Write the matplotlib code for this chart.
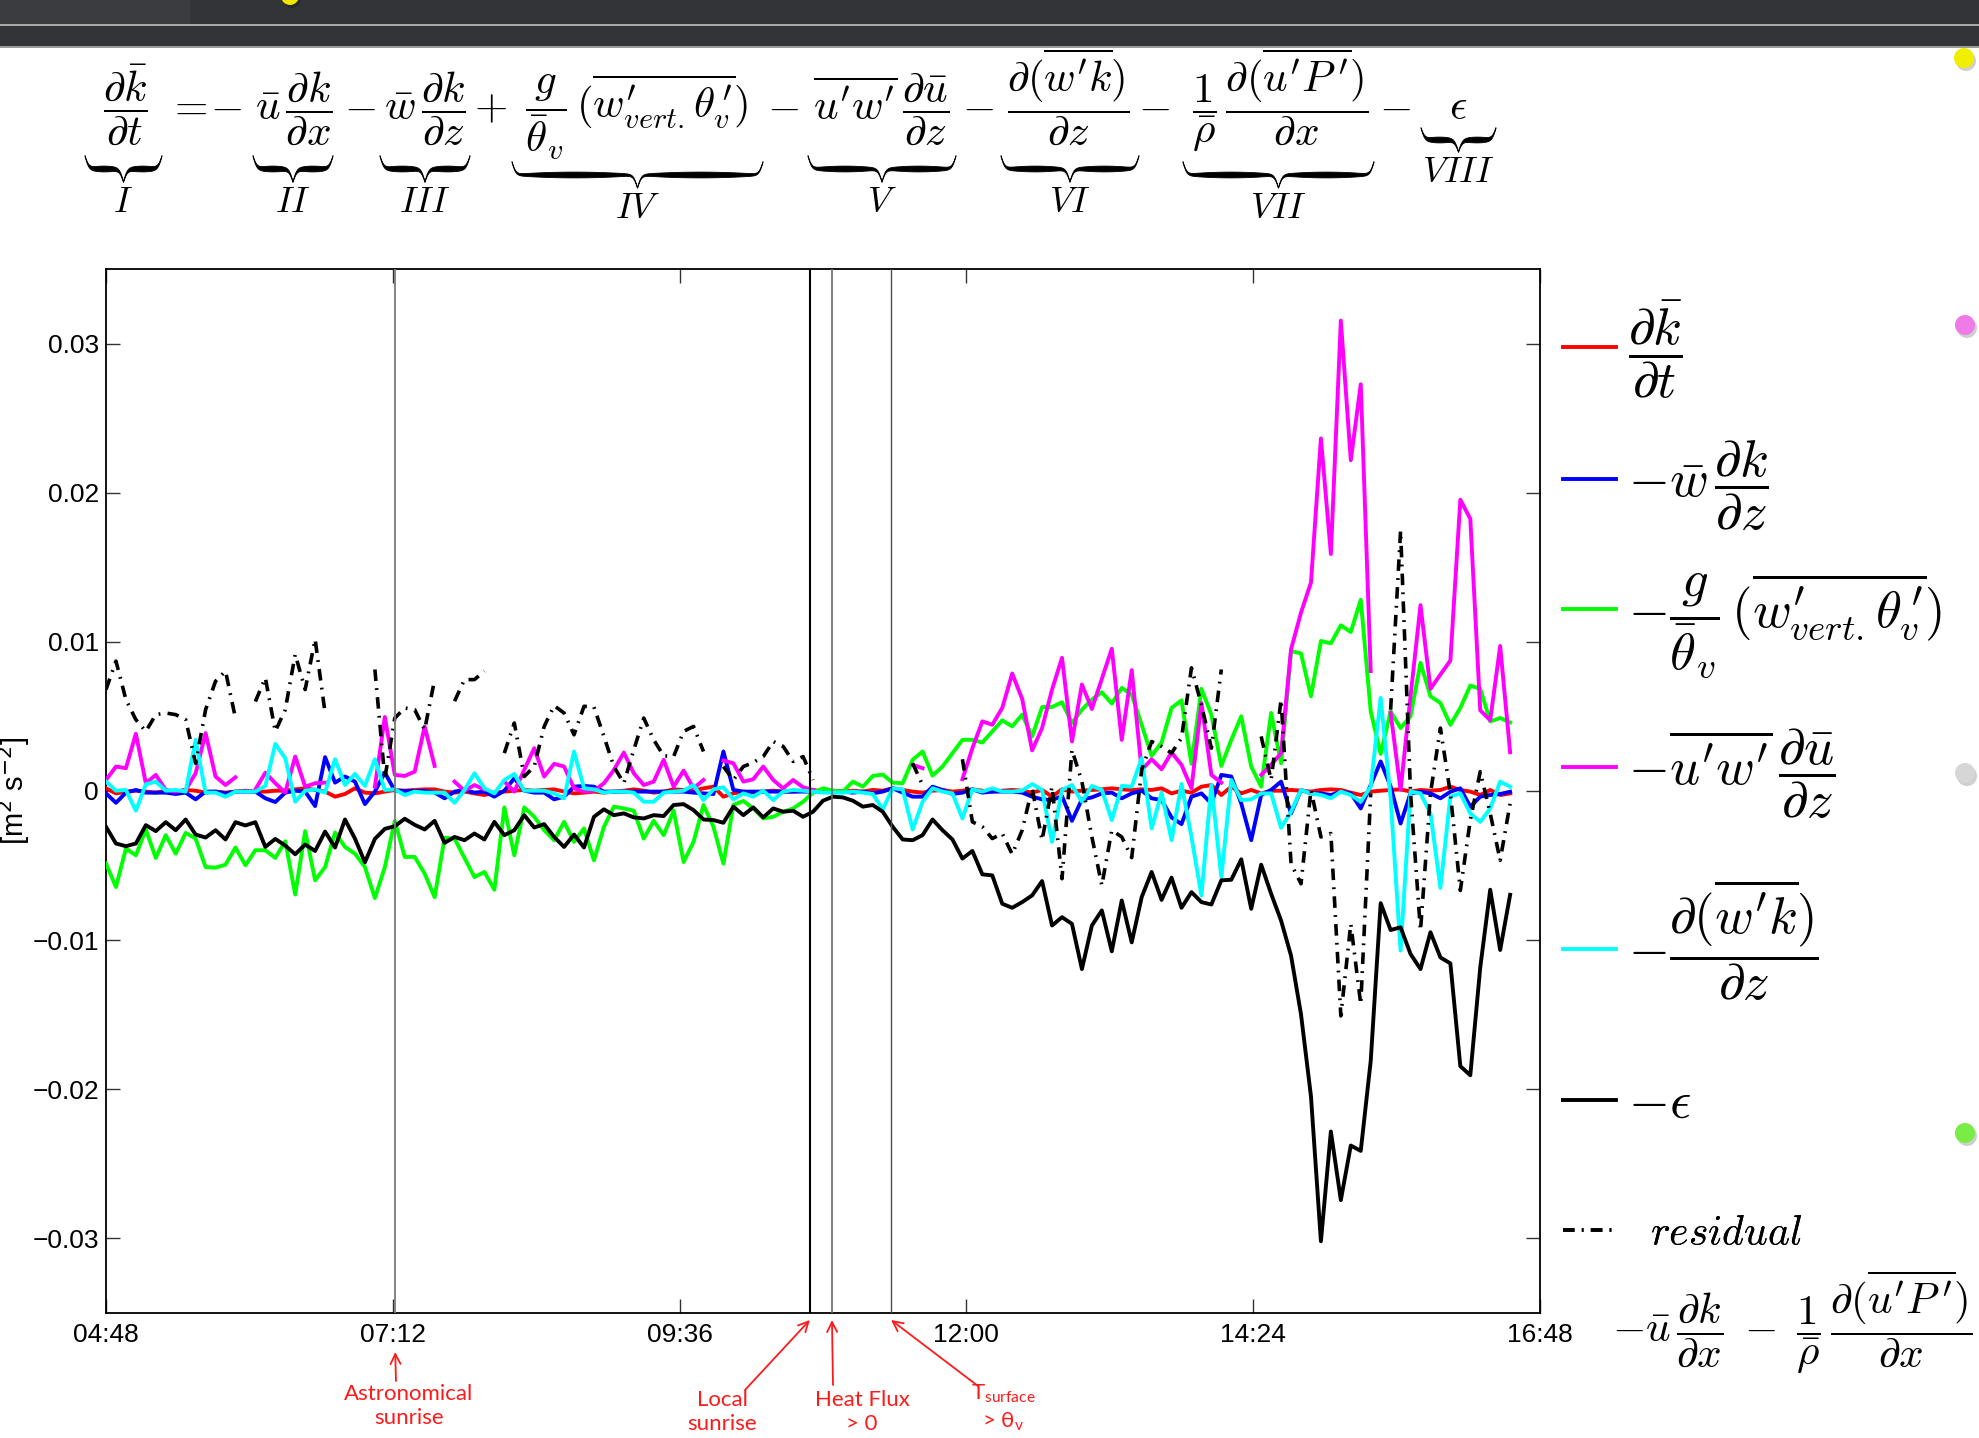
# -*- coding: utf-8 -*-
"""
TKE budget terms over the morning transition, with the budget equation on top.
"""
import numpy as np
import matplotlib
matplotlib.use("Agg")
import matplotlib.pyplot as plt
from matplotlib.patches import Circle, Polygon, Rectangle
from matplotlib.transforms import IdentityTransform
from matplotlib.ticker import FixedLocator, FuncFormatter

plt.rcParams['font.family'] = ['Liberation Sans', 'DejaVu Sans']
plt.rcParams['mathtext.fontset'] = 'cm'
plt.rcParams['mathtext.rm'] = 'Lato'
plt.rcParams['mathtext.it'] = 'Lato:italic'

nan = np.nan
W, H = 1979, 1438

# 5 min samples starting 04:48 (hours), budget terms in 1e-3 m2 s-2
n_samp = 142
t = 4.8 + np.arange(n_samp) * 5 / 60.

dkdt = [0.18, -0.16, -0.04, 0.02, -0.04, -0.11, 0.02, -0.04, 0.07, 0.02, -0.11, -0.04, -0.11, -0.04, 0.02, -0.04, -0.04, 0.02, 0.02, 0.11, 0.18, 0.07, -0.04, -0.38, -0.20, 0.18, -0.11, -0.16, -0.04, 0.07, 0.02, 0.07, 0.11, 0.11, -0.04, -0.11, -0.04, -0.16,
        -0.27, -0.11, -0.04, 0.02, 0.07, 0.02, 0.07, 0.11, -0.04, -0.16, -0.11, -0.04, -0.11, -0.04, 0.02, 0.11, 0.02, -0.11, -0.04, 0.11, 0.07, 0.02, 0.18, 0.29, -0.38, -0.16, -0.04, -0.11, -0.04, 0.02, -0.04, -0.04, 0.02, 0.07, -0.04, 0.02, -0.04,
        0.02, -0.04, 0.07, 0.02, 0.18, 0.07, -0.04, -0.11, 0.02, 0.07, -0.04, 0.02, 0.11, 0.02, -0.04, 0.02, 0.07, 0.02, -0.11, 0.07, -0.38, 0.11, -0.04, 0.02, 0.07, 0.11, 0.18, 0.11, 0.07, 0.11, 0.07, 0.18, -0.16, 0.02, -0.11, 0.29, 0.40, -0.27,
        0.29, -0.16, 0.07, -0.16, 0.02, 0.02, 0.07, 0.02, -0.04, 0.07, 0.11, 0.07, -0.11, -0.27, -0.04, 0.02, 0.07, 0.11, -0.04, 0.07, 0.02, 0.07, 0.29, 0.07, -0.04, -0.27, 0.07, -0.27, -0.16]

vert_adv = [-0.16, -0.79, -0.11, 0.07, -0.11, -0.11, -0.11, -0.20, -0.11, -0.56, -0.04, -0.04, -0.16, -0.04, -0.04, -0.04, -0.49, -0.74, -0.11, 0.02, -0.04, -1.01, 2.27, 0.56, 0.97, 0.63, -0.88, -0.04, 1.23, 0.02, 0.0, 0.0, 0.0, -0.1, -0.49, -0.04, 0.07, -0.11,
            -0.04, -0.38, 0.02, 0.85, 0.02, -0.11, -0.11, -0.56, -0.38, 0.29, 0.34, 0.29, -0.04, -0.04, -0.04, -0.04, -0.04, -0.04, -0.04, -0.04, -0.04, -0.11, -0.16, -0.20, 2.65, 0.07, -0.04, -0.04, -0.04, -0.04, -0.04, -0.04, -0.04, -0.04, -0.04, -0.04, -0.04,
            -0.11, -0.04, -0.16, -0.04, 0.18, -0.11, -0.38, -0.38, 0.29, 0.07, -0.20, -0.11, 0.11, -0.11, -0.04, -0.04, -0.04, -0.11, -0.38, -0.56, -0.61, -0.34, -2.00, -0.56, -0.43, -0.16, -0.11, -0.49, -0.16, 0.02, -0.49, -0.61, -1.77, -2.22, -0.38, -0.16, -0.83, 1.08,
            0.97, -0.83, -3.30, -0.27, 0.07, 0.63, -1.50, 0.07, -0.16, -0.16, -0.27, -0.05, -0.16, -1.17, 0.40, 1.98, 0.30, -2.18, -0.16, -0.05, -0.16, -0.49, -0.05, 0.18, -1.05, -0.38, -0.27, -0.20, -0.05]

buoy = [-4.87, -6.44, -3.86, -4.31, -2.58, -4.49, -2.96, -4.20, -2.81, -3.19, -5.10, -5.14, -4.94, -3.79, -4.98, -3.97, -3.97, -4.49, -3.37, -6.94, -2.69, -5.99, -5.10, -2.78, -3.75, -4.20, -5.10, -7.18, -5.10, -2.00, -4.42, -4.42, -5.54, -7.12, -3.14, -3.19, -4.49, -5.77,
        -5.43, -6.62, -1.10, -4.31, -1.10, -1.73, -2.63, -3.30, -2.07, -3.41, -2.51, -4.65, -2.40, -1.05, -1.17, -1.32, -3.19, -2.00, -2.96, -1.32, -4.76, -3.41, -0.94, -2.40, -4.87, -0.94, -0.67, -1.17, -1.84, -1.73, -1.39, -1.17, -0.72, -0.11, 0.18, 0.02, -0.04,
        0.63, 0.29, 1.01, 1.10, 0.56, 0.52, 2.09, 2.65, 1.03, 1.64, 2.54, 3.43, 3.43, 3.25, 4.00, 4.74, 4.33, 5.12, 3.66, 5.63, 5.63, 5.95, 4.56, 5.45, 6.13, 6.62, 5.86, 6.91, 6.46, 4.44, 2.36, 3.25, 5.57, 6.08, 1.82, 6.85, 5.12, 1.68,
        3.43, 5.01, 1.64, 0.29, 5.23, 1.86, 9.38, 9.23, 6.35, 10.06, 9.90, 11.11, 10.66, 12.82, 5.34, 2.49, 5.34, 4.22, 5.01, 8.60, 6.35, 5.90, 4.44, 5.57, 7.07, 6.85, 4.67, 4.89, 4.60]

shear = [0.74, 1.64, 1.53, 3.84, 0.52, 1.08, 0.07, -0.04, 0.07, 1.19, 3.88, 0.97, 0.40, 0.92, nan, 0.10, 1.23, 0.52, -0.10, 2.31, 0.29, 0.52, 0.56, nan, nan, nan, nan, 0.29, 4.96, 1.08, 1.01, 1.30, 4.33, 1.68, nan, 0.63, 0.02, 0.40,
         0.10, nan, 0.63, -0.04, 1.41, 2.87, 0.97, 1.82, 1.64, 0.18, -0.04, 0.02, 0.52, 1.41, 2.58, 1.19, 0.40, 0.63, 2.09, 0.29, 1.37, 0.18, 0.74, nan, 2.04, 1.86, 0.63, 0.79, 1.64, 0.74, 0.18, 0.74, 0.25, 0.07, nan, nan, nan,
         nan, nan, 0.63, nan, nan, nan, 1.75, 1.53, nan, 0.56, nan, 0.79, 2.87, 4.67, 4.44, 5.57, 7.88, 6.17, 2.72, 4.22, 6.80, 8.93, 3.32, 7.14, 5.50, 7.52, 9.54, 3.43, 8.10, 1.41, 2.13, 1.46, 2.58, 1.75, 0.18, 5.90, 1.08, 0.56,
         nan, nan, nan, 1.08, 1.75, 2.54, 9.50, 11.96, 13.98, 23.64, 15.89, 31.54, 22.18, 27.27, 8.04, nan, 5.23, 0.07, 6.35, 12.46, 6.85, 7.81, 8.75, 19.53, 18.25, 5.41, 4.74, 9.72, 2.60]

turb_tr = [0.63, 0.02, 0.07, -1.32, 0.45, 0.63, 0.02, 0.07, -0.04, 3.43, -0.11, -0.11, -0.38, -0.04, -0.04, -0.04, 0.34, 3.16, 2.20, -0.72, 0.02, 0.11, -0.11, 2.13, 0.40, 1.14, 0.34, 2.13, 0.07, 0.11, -0.27, -0.04, -0.11, -0.11, -0.11, -0.79, 0.07, 1.19,
           0.18, -0.16, 0.74, 1.14, 0.02, 0.02, 0.02, -0.16, -0.49, 2.65, 0.18, 0.11, -0.11, -0.04, -0.04, -0.11, -0.72, -0.72, -0.11, -0.04, 0.02, 0.40, -0.61, 0.11, 0.25, -0.56, -0.16, -0.38, 0.02, -0.61, -0.04, 0.07, 0.02, -0.04, -0.11, -0.11, -0.11,
           -0.04, -0.11, -0.20, -1.23, 0.18, 0.11, -2.58, -0.72, 0.18, -0.04, -0.16, -1.84, 0.11, -0.04, 0.18, -0.04, -0.04, 0.02, 0.47, 0.07, -3.41, 0.07, 0.40, -0.72, 0.34, 0.07, -1.95, 0.34, 0.29, 2.20, -2.51, -0.11, -3.30, 0.47, -3.08, -7.00, 0.40, -5.77,
           0.74, -0.61, -0.56, -0.16, -0.16, -2.47, -1.39, 0.07, -0.16, -0.27, -0.49, -0.04, -0.27, -0.72, 0.29, 6.24, -0.50, -10.70, -0.04, -0.16, -1.50, -6.49, -0.38, -0.16, -1.50, -2.07, -1.17, 0.63, 0.29]

dissip = [-2.40, -3.52, -3.70, -3.52, -2.29, -2.69, -2.09, -2.63, -1.91, -2.92, -3.12, -2.63, -3.25, -2.09, -2.31, -2.09, -3.75, -3.21, -3.66, -4.24, -3.59, -4.02, -2.72, -3.79, -1.91, -3.19, -4.78, -3.21, -2.54, -2.36, -1.86, -2.27, -2.58, -2.00, -3.48, -3.08, -3.30, -2.85,
          -3.25, -2.07, -2.96, -2.63, -1.62, -2.45, -2.22, -3.08, -3.75, -2.92, -3.79, -1.73, -1.23, -1.62, -1.50, -1.77, -1.84, -1.62, -1.68, -0.94, -0.88, -1.28, -1.91, -1.95, -2.13, -1.05, -1.62, -1.10, -1.77, -1.17, -1.39, -1.32, -1.73, -1.39, -0.65, -0.38, -0.43,
          -0.65, -1.05, -0.94, -1.39, -2.40, -3.25, -3.30, -2.96, -1.91, -2.63, -3.25, -4.53, -4.02, -5.59, -5.66, -7.56, -7.83, -7.45, -7.00, -6.04, -9.02, -8.46, -8.91, -11.94, -9.02, -8.01, -10.75, -7.34, -10.15, -7.12, -5.43, -7.30, -5.81, -7.83, -6.78, -7.45, -7.61, -5.99,
          -5.95, -4.58, -7.90, -4.94, -6.89, -8.69, -11.04, -14.97, -20.47, -30.19, -22.83, -27.43, -23.77, -24.13, -18.11, -7.52, -9.32, -9.14, -10.93, -11.94, -9.47, -11.16, -11.56, -18.45, -19.06, -11.83, -6.62, -10.66, -6.96]

resid = [6.80, 8.71, 6.13, 4.78, 4.00, 5.12, 5.23, 5.12, 4.78, 1.86, 5.45, 7.36, 8.04, 4.89, nan, 6.00, 7.59, 4.00, 5.45, 9.16, 6.80, 10.17, 5.23, nan, nan, nan, nan, 8.15, 0.85, 4.89, 5.57, 5.45, 4.11, 7.47, nan, 6.02, 7.47, 7.47,
         8.04, nan, 2.54, 4.56, 0.97, 1.64, 4.33, 5.72, 5.23, 3.77, 5.68, 5.63, 3.66, 1.64, 0.52, 2.76, 4.89, 3.43, 2.36, 2.31, 4.00, 4.33, 2.65, nan, 1.64, 0.74, 1.64, 1.91, 2.31, 3.32, 2.99, 1.98, 2.31, 0.74, nan, nan, nan,
         nan, nan, -0.61, nan, nan, nan, 1.86, 0.40, nan, 0.40, nan, 2.13, -2.07, -2.40, -3.19, -2.85, -4.24, -2.63, 0.18, -3.30, 0.29, -5.88, 2.76, 0.63, -3.08, -6.33, -2.63, -3.08, -4.47, 1.41, 3.32, 2.99, 2.54, 3.55, 8.26, 5.79, 2.87, 8.15,
         nan, nan, nan, 3.66, 0.74, 6.13, -4.87, -6.22, 0.07, -3.08, -2.85, -15.08, -8.91, -14.30, -0.16, nan, 5.45, 17.46, -0.16, -9.36, -0.16, 4.22, -0.16, -6.67, -1.95, 1.30, -1.50, -4.65, -0.83]

for s in (dkdt, vert_adv, buoy, shear, turb_tr, dissip, resid):
    assert len(s) == n_samp, len(s)

# marked events (hours)
event_t = [7.22, 10.69, 10.875, 11.37]
event_col = ['#7a7a7a', '#000000', '#6a6a6a', '#505050']
event_lw = [1.3, 1.5, 1.2, 1.0]
event_lab = ['Astronomical\nsunrise', 'Local\nsunrise', 'Heat Flux\n> 0',
             r'T$_{\mathrm{surface}}$' + '\n' + r'> θ$_{\mathrm{v}}$']

x_ticks = [4.8, 7.2, 9.6, 12.0, 14.4, 16.8]
y_ticks = [-0.03, -0.02, -0.01, 0, 0.01, 0.02, 0.03]

labels = [r'$\dfrac{\partial\bar{k}}{\partial t}$',
          r'$-\bar{w}\,\dfrac{\partial k}{\partial z}$',
          r'$-\dfrac{g}{\bar{\theta}_v}\,(\overline{w^{\prime}_{vert.}\theta_v^{\,\prime}})$',
          r'$-\overline{u^{\prime}w^{\prime}}\,\dfrac{\partial\bar{u}}{\partial z}$',
          r'$-\dfrac{\partial(\overline{w^{\prime}k})}{\partial z}$',
          r'$-\epsilon$',
          r'$residual$']

fig = plt.figure(figsize=(W / 100, H / 100), dpi=100)
fig.patch.set_facecolor('white')


def fx(px):
    return px / W


def fy(py):
    return 1 - py / H


# slide header bar
fig.add_artist(Rectangle((0, fy(47)), 1, 47 / H, transform=fig.transFigure, fc='#333437', ec='none'))
fig.add_artist(Rectangle((0, fy(25)), fx(190), 25 / H, transform=fig.transFigure, fc='#3b3c3f', ec='none'))
fig.add_artist(Rectangle((0, fy(26)), 1, 2 / H, transform=fig.transFigure, fc='#a9a9a9', ec='none'))
fig.add_artist(Rectangle((0, fy(48)), 1, 2 / H, transform=fig.transFigure, fc='#9c9c9c', ec='none'))

# slide bullet dots
for (cx, cy, r, c) in [(290, -4, 9, '#f2e600'), (1964, 58, 10, '#f2ee00'), (1965, 325, 10, '#f07ae8'),
                       (1965, 773, 10, '#d6d6d6'), (1965, 1133, 10, '#7aec46')]:
    fig.add_artist(Circle((cx + 2, H - cy - 3), r, transform=IdentityTransform(), fc='#00000030', ec='none'))
    fig.add_artist(Circle((cx, H - cy), r, transform=IdentityTransform(), fc=c, ec='none'))

ax = fig.add_axes([fx(106), fy(1313), 1434 / W, 1044 / H])

colors = ['#ff0000', '#0000ff', '#00ff00', '#ff00ff', '#00ffff', '#000000']
handles = []
for s, c in zip((dkdt, vert_adv, buoy, shear, turb_tr, dissip), colors):
    h, = ax.plot(t, np.array(s) * 1e-3, color=c, lw=2.8, zorder=3)
    handles.append(h)
h, = ax.plot(t, np.array(resid) * 1e-3, color='black', lw=2.6, ls=(0, (3.2, 2.0, 0.5, 2.0)), zorder=4)
handles.append(h)

for et, c, lw in zip(event_t, event_col, event_lw):
    ax.axvline(et, color=c, lw=lw, zorder=5)

ax.set_xlim(4.8, 16.8)
ax.set_ylim(-0.035, 0.035)
ax.xaxis.set_major_locator(FixedLocator(x_ticks))
ax.yaxis.set_major_locator(FixedLocator(y_ticks))


def hhmm(v, pos):
    hh = int(v + 1e-9)
    mm = int(round((v - hh) * 60))
    return f'{hh:02d}:{mm:02d}'


def yfmt(v, pos):
    if abs(v) < 1e-12:
        return '0'
    return f'{v:.2f}'.replace('-', '\u2212')


ax.xaxis.set_major_formatter(FuncFormatter(hhmm))
ax.yaxis.set_major_formatter(FuncFormatter(yfmt))
ax.tick_params(direction='in', top=True, right=True, length=10, width=1.0, labelsize=19, pad=7, color='#333333')
ax.tick_params(axis='y', pad=5)
for sp in ax.spines.values():
    sp.set_linewidth(1.3)
    sp.set_color('black')

ax.set_ylabel('[m$^{2}$ s$^{-2}$]', fontsize=21, math_fontfamily='dejavusans')
ax.yaxis.set_label_coords((32 - 106) / 1434, 0.5)

# legend, one row per term
leg_y = [350, 486, 626, 774, 940, 1104, 1234]
leg_fs = [38, 38, 38, 38, 38, 38, 30]
leg_pad = [12, 12, 12, 12, 12, 12, 34]
for h, lab, yc, fs, pad in zip(handles, labels, leg_y, leg_fs, leg_pad):
    fpx = fs * 100 / 72.
    leg = ax.legend([h], [lab], loc='center left', bbox_to_anchor=(fx(1563), fy(yc)),
                    bbox_transform=fig.transFigure, frameon=False, fontsize=fs,
                    handlelength=53 / fpx, handletextpad=pad / fpx, borderpad=0, borderaxespad=0)
    ax.add_artist(leg)
fig.text(fx(1612), fy(1322),
         r'$-\bar{u}\,\dfrac{\partial k}{\partial x}\;-\;\dfrac{1}{\bar{\rho}}\,'
         r'\dfrac{\partial(\overline{u^{\prime}P^{\,\prime}})}{\partial x}$',
         fontsize=31, ha='left', va='center')

# event annotations below the axis
red = '#ff1a1a'
lab_xy = [(409, 1406), (722, 1412), (862, 1412), (1003, 1408)]
tails = [(396, 1381), (745, 1390), (833, 1385), (978, 1386)]
tips_py = [1352, 1320, 1320, 1320]
for et, lab, (lx, ly), (tx, ty), tp in zip(event_t, event_lab, lab_xy, tails, tips_py):
    ax.annotate('', xy=(et, (1313 - tp) / 1044), xycoords=ax.get_xaxis_transform(),
                xytext=(tx, H - ty), textcoords='figure pixels',
                arrowprops=dict(arrowstyle='->', color=red, lw=1.3, mutation_scale=18, shrinkA=0, shrinkB=0))
    fig.text(fx(lx), fy(ly), lab, color=red, fontsize=16, ha='center', va='center',
             family=['Lato', 'DejaVu Sans'], math_fontfamily='custom', linespacing=1.3)

# TKE budget equation
eq_base = 119
eq_parts = [(125, r'$\dfrac{\partial\bar{k}}{\partial t}$'),
            (187, r'$=$'), (226, r'$-$'),
            (294, r'$\bar{u}\,\dfrac{\partial k}{\partial x}$'),
            (360, r'$-$'),
            (425, r'$\bar{w}\,\dfrac{\partial k}{\partial z}$'),
            (490, r'$+$'),
            (637, r'$\dfrac{g}{\bar{\theta}_v}\,(\overline{w^{\prime}_{vert.}\theta_v^{\,\prime}})$'),
            (783, r'$-$'),
            (881, r'$\overline{u^{\prime}w^{\prime}}\,\dfrac{\partial\bar{u}}{\partial z}$'),
            (978, r'$-$'),
            (1068, r'$\dfrac{\partial(\overline{w^{\prime}k})}{\partial z}$'),
            (1154, r'$-$'),
            (1280, r'$\dfrac{1}{\bar{\rho}}\,\dfrac{\partial(\overline{u^{\prime}P^{\,\prime}})}{\partial x}$'),
            (1395, r'$-$'),
            (1458, r'$\epsilon$')]
for x, s in eq_parts:
    fig.text(fx(x), fy(eq_base), s, fontsize=31, ha='center', va='baseline')


def underbrace(x0, x1, ytop, depth, tmax=5.0):
    w = x1 - x0
    beta = w / 2.0
    u = np.linspace(0, 0.5, 150)
    v = 1 / (1 + np.exp(-beta * u)) + 1 / (1 + np.exp(-beta * (u - 0.5))) - 0.5
    th = 0.8 + tmax * np.sin(np.pi * u / 0.5) ** 0.8
    xs = np.concatenate([x0 + u * w, x1 - u[::-1] * w])
    ys = np.concatenate([v, v[::-1]]) * depth + ytop
    ts = np.concatenate([th, th[::-1]])
    px = np.concatenate([xs, xs[::-1]])
    py = np.concatenate([ys - ts / 2, (ys + ts / 2)[::-1]])
    fig.add_artist(Polygon(np.column_stack([px / W, 1 - py / H]), closed=True,
                           transform=fig.transFigure, fc='black', ec='black', lw=0.6))


braces = [(85, 162, 156, 26, 'I', 203), (253, 333, 156, 26, 'II', 203), (380, 470, 156, 26, 'III', 203),
          (512, 763, 162, 26, 'IV', 209), (808, 956, 156, 26, 'V', 203), (1001, 1139, 156, 26, 'VI', 203),
          (1183, 1374, 162, 26, 'VII', 209), (1421, 1496, 128, 24, 'VIII', 172)]
for x0, x1, yt, d, num, ny in braces:
    underbrace(x0, x1, yt, d)
    fig.text(fx((x0 + x1) / 2), fy(ny), '$' + num + '$', fontsize=26, ha='center', va='center')

fig.savefig('out.png', dpi=100)
